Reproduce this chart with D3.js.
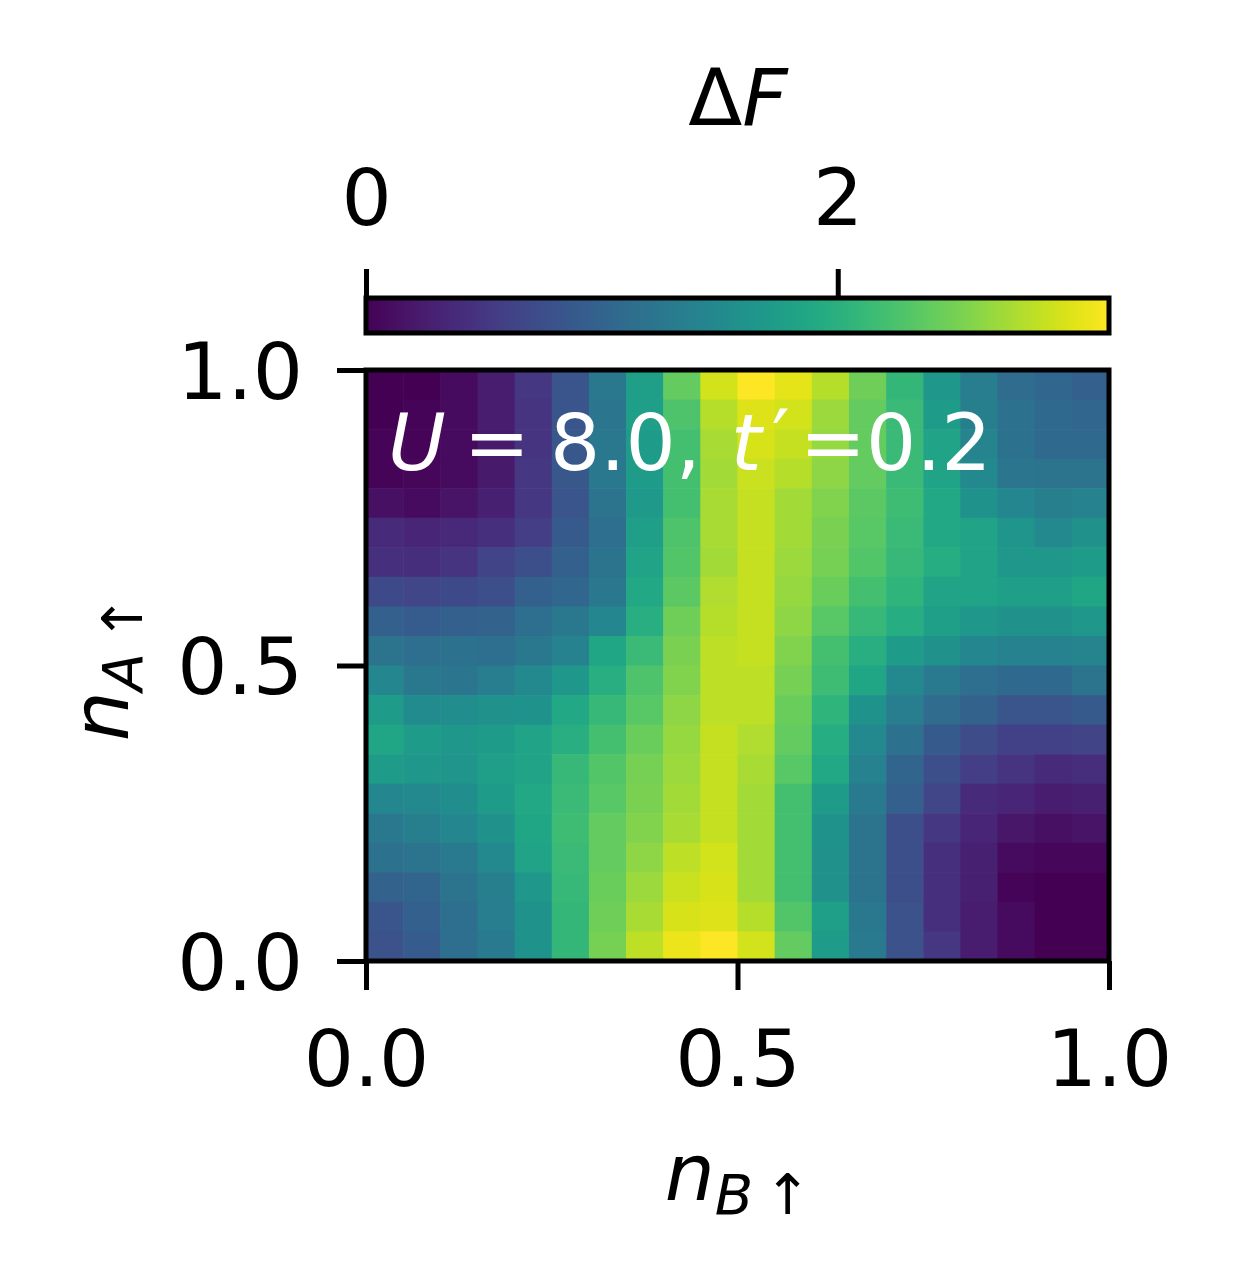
<!DOCTYPE html>
<meta charset="utf-8">
<style>
body { margin: 0; background: #fff; }
text { font-family: "DejaVu Sans", sans-serif; fill: #000; }
</style>
<svg width="1235" height="1275"></svg>
<script src="https://d3js.org/d3.v7.min.js"></script>
<script>

// n_B (columns, left -> right) and n_A (rows, top -> bottom) cell centres
var nB = [0.025,0.075,0.125,0.175,0.225,0.275,0.325,0.375,0.425,0.475,
          0.525,0.575,0.625,0.675,0.725,0.775,0.825,0.875,0.925,0.975];
var nA = [0.975,0.925,0.875,0.825,0.775,0.725,0.675,0.625,0.575,0.525,
          0.475,0.425,0.375,0.325,0.275,0.225,0.175,0.125,0.075,0.025];

// Delta F, one row per n_A value above
var dF = [
  [0.00,0.00,0.09,0.25,0.50,0.82,1.26,1.76,2.39,2.93,3.15,3.02,2.80,2.46,2.08,1.67,1.32,1.10,1.04,0.95],
  [0.00,0.03,0.09,0.25,0.47,0.82,1.23,1.76,2.27,2.80,2.99,2.93,2.68,2.39,2.14,1.73,1.35,1.17,1.07,1.04],
  [0.03,0.03,0.09,0.22,0.47,0.85,1.26,1.73,2.21,2.74,2.96,2.87,2.65,2.39,2.14,1.83,1.42,1.17,1.07,1.07],
  [0.03,0.06,0.09,0.22,0.50,0.85,1.26,1.73,2.21,2.71,2.90,2.80,2.61,2.39,2.14,1.83,1.48,1.23,1.20,1.20],
  [0.13,0.09,0.16,0.28,0.50,0.82,1.20,1.70,2.21,2.74,2.87,2.71,2.55,2.36,2.17,1.89,1.61,1.45,1.35,1.39],
  [0.38,0.32,0.35,0.44,0.57,0.88,1.13,1.76,2.27,2.74,2.87,2.71,2.52,2.33,2.14,1.89,1.83,1.64,1.48,1.58],
  [0.44,0.41,0.47,0.63,0.76,0.95,1.20,1.83,2.30,2.71,2.87,2.68,2.49,2.30,2.11,1.95,1.83,1.67,1.67,1.73],
  [0.69,0.66,0.69,0.76,0.95,1.04,1.26,1.89,2.36,2.77,2.87,2.65,2.43,2.21,2.05,1.83,1.83,1.76,1.76,1.86],
  [0.95,0.91,0.95,0.98,1.13,1.26,1.45,1.98,2.46,2.80,2.87,2.61,2.33,2.11,1.95,1.76,1.67,1.58,1.58,1.67],
  [1.20,1.13,1.17,1.13,1.26,1.39,1.86,2.14,2.52,2.84,2.87,2.55,2.21,1.98,1.73,1.58,1.45,1.39,1.39,1.42],
  [1.45,1.26,1.23,1.32,1.48,1.67,1.98,2.27,2.55,2.84,2.84,2.49,2.17,1.86,1.48,1.29,1.13,1.07,1.07,1.20],
  [1.73,1.51,1.54,1.58,1.61,1.89,2.11,2.33,2.61,2.84,2.84,2.43,2.05,1.61,1.32,1.10,0.98,0.82,0.82,0.88],
  [1.86,1.73,1.67,1.73,1.83,1.98,2.21,2.43,2.65,2.87,2.77,2.39,1.95,1.48,1.17,0.88,0.72,0.60,0.60,0.63],
  [1.73,1.67,1.64,1.76,1.83,2.11,2.30,2.49,2.68,2.87,2.74,2.33,1.89,1.39,1.01,0.76,0.57,0.47,0.38,0.41],
  [1.45,1.48,1.54,1.73,1.89,2.14,2.33,2.52,2.71,2.87,2.71,2.21,1.73,1.29,0.95,0.66,0.38,0.32,0.25,0.28],
  [1.26,1.35,1.45,1.58,1.86,2.17,2.39,2.55,2.74,2.87,2.71,2.21,1.61,1.20,0.76,0.50,0.32,0.19,0.13,0.16],
  [1.17,1.20,1.29,1.48,1.83,2.14,2.39,2.61,2.84,2.93,2.71,2.21,1.58,1.20,0.76,0.44,0.28,0.09,0.06,0.06],
  [0.98,1.01,1.20,1.35,1.67,2.11,2.43,2.68,2.90,2.96,2.71,2.21,1.58,1.20,0.76,0.44,0.28,0.03,0.00,0.00],
  [0.82,0.95,1.13,1.32,1.61,2.08,2.46,2.74,2.96,2.99,2.80,2.30,1.76,1.26,0.79,0.44,0.25,0.09,0.00,0.00],
  [0.79,0.91,1.13,1.29,1.61,2.08,2.49,2.84,3.06,3.15,2.93,2.39,1.73,1.29,0.79,0.50,0.25,0.09,0.00,0.00]
];

var axisTicks = [0, 0.5, 1];
var cbarTicks = [0, 2];
var cellSize = 0.05;

var svg = d3.select("svg");
var plotLeft = 366, plotRight = 1109, plotTop = 370, plotBottom = 961;

var x = d3.scaleLinear().domain([0, 1]).range([plotLeft, plotRight]);
var y = d3.scaleLinear().domain([0, 1]).range([plotBottom, plotTop]);

var vmin = d3.min(dF, function(r) { return d3.min(r); }),
    vmax = d3.max(dF, function(r) { return d3.max(r); });
var color = d3.scaleSequential(d3.interpolateViridis).domain([vmin, vmax]);

// cells
var cells = [];
dF.forEach(function(row, i) {
  row.forEach(function(v, j) {
    cells.push({ a: nA[i], b: nB[j], v: v });
  });
});

svg.append("g")
  .selectAll("rect")
  .data(cells)
  .enter().append("rect")
    .attr("x", function(d) { return x(d.b - cellSize / 2); })
    .attr("y", function(d) { return y(d.a + cellSize / 2); })
    .attr("width", x(cellSize) - x(0) + 0.6)
    .attr("height", y(0) - y(cellSize) + 0.6)
    .attr("fill", function(d) { return color(d.v); });

// annotation
var ann = svg.append("text")
    .attr("x", 388)
    .attr("y", 470)
    .style("font-size", "79px")
    .style("fill", "#fff");
ann.append("tspan").style("font-style", "italic").text("U");
ann.append("tspan").attr("dx", 18).text("=");
ann.append("tspan").attr("dx", 20).text("8.0,");
ann.append("tspan").attr("dx", 30).style("font-style", "italic").text("t");
ann.append("tspan").attr("dx", 10).attr("dy", -4).text("\u2032");
ann.append("tspan").attr("dx", 10).attr("dy", 4).text("=0.2");

// axes
var xAxis = d3.axisBottom(x).tickValues(axisTicks).tickFormat(d3.format(".1f"))
    .tickSize(29).tickPadding(38);
var yAxis = d3.axisLeft(y).tickValues(axisTicks).tickFormat(d3.format(".1f"))
    .tickSize(29).tickPadding(34);

var gx = svg.append("g").attr("transform", "translate(0," + plotBottom + ")").call(xAxis);
var gy = svg.append("g").attr("transform", "translate(" + plotLeft + ",0)").call(yAxis);

[gx, gy].forEach(function(g) {
  g.select(".domain").remove();
  g.selectAll(".tick line").attr("stroke", "#000").attr("stroke-width", 5);
  g.selectAll(".tick text").attr("fill", "#000").style("font-size", "79px")
    .style("font-family", "DejaVu Sans");
});
gx.selectAll(".tick text").attr("dy", "0.73em");
gy.selectAll(".tick text").attr("dy", "0.36em");

svg.append("rect")
    .attr("x", plotLeft).attr("y", plotTop)
    .attr("width", plotRight - plotLeft).attr("height", plotBottom - plotTop)
    .attr("fill", "none").attr("stroke", "#000").attr("stroke-width", 5);

// axis labels
var xl = svg.append("text")
    .attr("x", 738).attr("y", 1200)
    .attr("text-anchor", "middle")
    .style("font-size", "79px");
xl.append("tspan").style("font-style", "italic").text("n");
xl.append("tspan").attr("dy", 14).style("font-size", "56px").style("font-style", "italic").text("B");
xl.append("tspan").style("font-size", "56px").text("\u2009\u2191");

var yl = svg.append("text")
    .attr("transform", "translate(128,668) rotate(-90)")
    .attr("text-anchor", "middle")
    .style("font-size", "79px");
yl.append("tspan").style("font-style", "italic").text("n");
yl.append("tspan").attr("dy", 14).style("font-size", "56px").style("font-style", "italic").text("A");
yl.append("tspan").style("font-size", "56px").text("\u2009\u2191");

// colorbar
var cTop = 298, cBot = 333;
var cx = d3.scaleLinear().domain([vmin, vmax]).range([plotLeft, plotRight]);

var defs = svg.append("defs");
var grad = defs.append("linearGradient").attr("id", "cgrad")
    .attr("x1", "0%").attr("x2", "100%").attr("y1", "0%").attr("y2", "0%");
grad.selectAll("stop")
  .data(d3.range(0, 1.0001, 0.02))
  .enter().append("stop")
    .attr("offset", function(d) { return (d * 100) + "%"; })
    .attr("stop-color", function(d) { return d3.interpolateViridis(d); });

svg.append("rect")
    .attr("x", plotLeft).attr("y", cTop)
    .attr("width", plotRight - plotLeft).attr("height", cBot - cTop)
    .attr("fill", "url(#cgrad)")
    .attr("stroke", "#000").attr("stroke-width", 5);

var cAxis = d3.axisTop(cx).tickValues(cbarTicks).tickFormat(d3.format("d"))
    .tickSize(29).tickPadding(44);
var gc = svg.append("g").attr("transform", "translate(0," + cTop + ")").call(cAxis);
gc.select(".domain").remove();
gc.selectAll(".tick line").attr("stroke", "#000").attr("stroke-width", 5);
gc.selectAll(".tick text").attr("fill", "#000").style("font-size", "79px")
  .style("font-family", "DejaVu Sans");

var ct = svg.append("text")
    .attr("x", 738).attr("y", 125)
    .attr("text-anchor", "middle")
    .style("font-size", "79px");
ct.append("tspan").text("\u0394");
ct.append("tspan").style("font-style", "italic").text("F");

</script>
